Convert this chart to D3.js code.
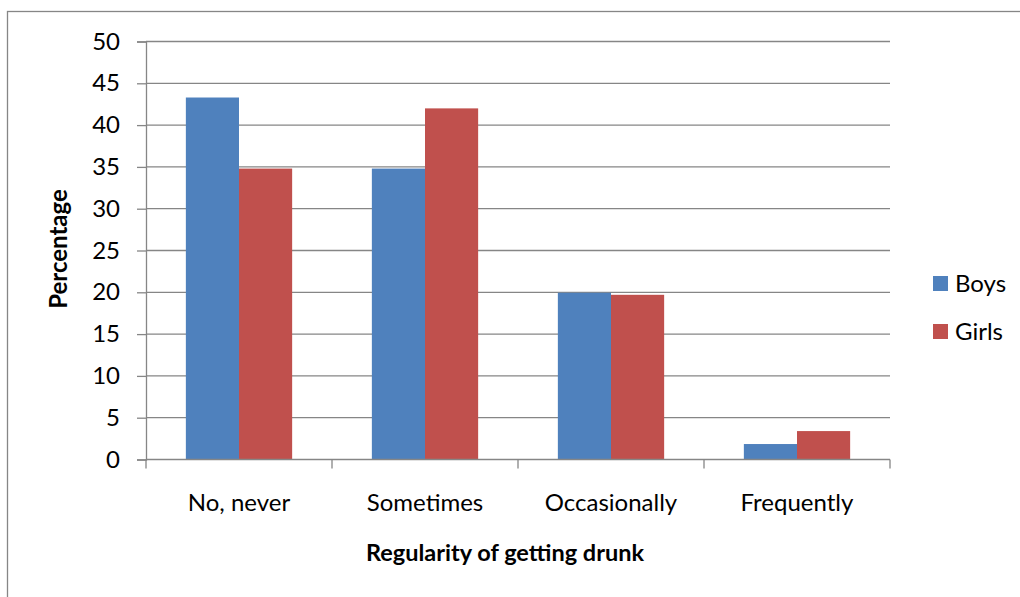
<!DOCTYPE html>
<html>
<head>
<meta charset="utf-8">
<script src="https://cdn.jsdelivr.net/npm/d3@7"></script>
<style>
  html, body { margin: 0; padding: 0; background: #fff; }
  svg { display: block; font-family: Lato, "Open Sans", sans-serif; }
</style>
</head>
<body>
<svg id="chart" width="1020" height="597"></svg>
<script>
// Survey answers on how often pupils get drunk, by sex (percent)
const categories = ["No, never", "Sometimes", "Occasionally", "Frequently"];
const seriesNames = ["Boys", "Girls"];
const boys = [43.3, 34.8, 19.95, 1.85];
const girls = [34.8, 42.0, 19.7, 3.4];
const yTicks = [0, 5, 10, 15, 20, 25, 30, 35, 40, 45, 50];
const colors = ["#4F81BD", "#C0504D"];

const svg = d3.select("#chart");
const plot = { left: 146, right: 890, top: 41.5, bottom: 459.5 };
const grey = "#868686";

// chart frame
svg.append("rect")
  .attr("x", 7.5).attr("y", 11.5)
  .attr("width", 1030).attr("height", 600)
  .attr("fill", "none").attr("stroke", grey).attr("stroke-width", 1.3);

const x0 = d3.scaleBand().domain(categories).range([plot.left, plot.right]).paddingInner(0).paddingOuter(0);
// 150% gap: two bars take 2 of 3.5 units in each category
const x1 = d3.scaleBand().domain(seriesNames).range([0, x0.bandwidth()]).paddingInner(0).paddingOuter(0.75);
const y = d3.scaleLinear().domain([0, 50]).range([plot.bottom, plot.top]);

// horizontal gridlines
svg.append("g").selectAll("line").data(yTicks.filter(t => t > 0)).join("line")
  .attr("x1", plot.left).attr("x2", plot.right)
  .attr("y1", d => y(d)).attr("y2", d => y(d))
  .attr("stroke", grey).attr("stroke-width", 1.3);

// bars
const rows = categories.map((c, i) => ({ cat: c, values: [boys[i], girls[i]] }));
const groups = svg.append("g").selectAll("g").data(rows).join("g")
  .attr("transform", d => `translate(${x0(d.cat)},0)`);
groups.selectAll("rect").data(d => d.values.map((v, j) => ({ key: seriesNames[j], v, j }))).join("rect")
  .attr("x", d => x1(d.key))
  .attr("width", x1.bandwidth())
  .attr("y", d => y(d.v))
  .attr("height", d => y(0) - y(d.v))
  .attr("fill", d => colors[d.j]);

// y axis
const yAxis = d3.axisLeft(y).tickValues(yTicks).tickSize(9).tickPadding(17).tickFormat(d3.format("d"));
const gy = svg.append("g").attr("transform", `translate(${plot.left},0)`).call(yAxis);
gy.select(".domain").attr("stroke", grey).attr("stroke-width", 1.3);
gy.selectAll(".tick line").attr("stroke", grey).attr("stroke-width", 1.3);
gy.selectAll(".tick text").attr("font-size", 24).attr("fill", "#000")
  .attr("font-family", "Lato, sans-serif");

// x axis with ticks at category boundaries
const gx = svg.append("g");
gx.append("line")
  .attr("x1", plot.left).attr("x2", plot.right)
  .attr("y1", y(0)).attr("y2", y(0))
  .attr("stroke", grey).attr("stroke-width", 1.3);
const bounds = categories.map(c => x0(c)).concat([x0(categories[categories.length - 1]) + x0.bandwidth()]);
gx.selectAll("line.tk").data(bounds).join("line").attr("class", "tk")
  .attr("x1", d => d).attr("x2", d => d)
  .attr("y1", y(0)).attr("y2", y(0) + 9)
  .attr("stroke", grey).attr("stroke-width", 1.3);
gx.selectAll("text").data(categories).join("text")
  .attr("x", d => x0(d) + x0.bandwidth() / 2)
  .attr("y", 511)
  .attr("text-anchor", "middle")
  .attr("font-size", 24)
  .text(d => d);

// axis titles
svg.append("text")
  .attr("x", 505).attr("y", 561)
  .attr("text-anchor", "middle")
  .attr("font-size", 23.5).attr("font-weight", "bold")
  .text("Regularity of getting drunk");
svg.append("text")
  .attr("transform", "translate(67,249) rotate(-90)")
  .attr("text-anchor", "middle")
  .attr("font-size", 24).attr("font-weight", "bold")
  .text("Percentage");

// legend
const legend = svg.append("g").selectAll("g").data(seriesNames).join("g")
  .attr("transform", (d, i) => `translate(933,${276 + i * 48})`);
legend.append("rect").attr("width", 15).attr("height", 15).attr("fill", (d, i) => colors[i]);
legend.append("text").attr("x", 22).attr("y", 15.5).attr("font-size", 24).text(d => d);
</script>
</body>
</html>
